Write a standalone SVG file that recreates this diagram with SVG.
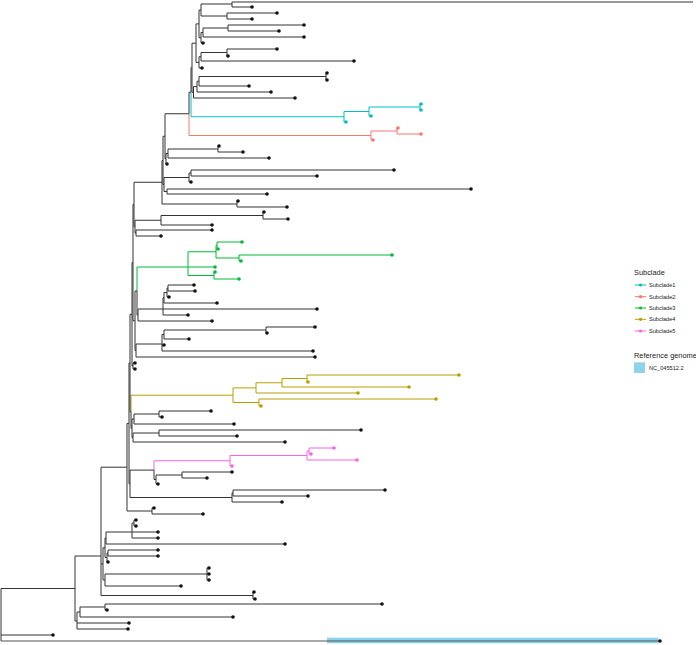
<svg xmlns="http://www.w3.org/2000/svg" width="696" height="645" viewBox="0 0 696 645">
<style>
.e{fill:none;stroke:#333;stroke-width:1}
.s1{fill:none;stroke:#00BFC4;stroke-width:1}
.s2{fill:none;stroke:#F8766D;stroke-width:1}
.s3{fill:none;stroke:#00BA38;stroke-width:1}
.s4{fill:none;stroke:#B79F00;stroke-width:1}
.s5{fill:none;stroke:#F564E3;stroke-width:1}
.k{fill:#111}
.f1{fill:#00BFC4}.f2{fill:#F8766D}.f3{fill:#00BA38}.f4{fill:#B79F00}.f5{fill:#F564E3}
.t{font-family:"Liberation Sans",Arial,sans-serif;fill:#1a1a1a}
</style>
<rect width="696" height="645" fill="#fff"/>
<rect x="327" y="637.7" width="331.5" height="5.6" fill="#8ED3E8"/>
<g id="connectors">
<path class="e" d="M232 2V7M232 2H693M232 7H252M227 13V19M227 13H277M227 19H252M201 4V16M201 4H232M201 16H227M228 25V31M228 25H304M228 31H279M203 28V37M203 28H228M203 37H304M201 32.5V43M201 32.5H203M201 43H203M199 10V37.75M199 10H201M199 37.75H201M227 49V56M227 49H277M227 56H228M201 52.5V61M201 52.5H227M201 61H354M199 56.75V68M199 56.75H201M199 68H202M196 23.9V62.4M196 23.9H199M196 62.4H199M326 73V80M326 73H327M326 80H327M199 76.5V86M199 76.5H326M199 86H249M197 81.25V92M197 81.25H199M197 92H271M193.5 86.6V98M193.5 86.6H197M193.5 98H295M192 43.2V92.3M192 43.2H196M192 92.3H193.5M191 67.75V92.25M191 67.75H192M189 92.25V113.75M189 92.25H191"/>
<path class="s1" d="M191 92.25V116.75H344M420 104V110M420 104H421M420 110H421M369 107V116M369 107H420M369 116H371M344 111.5V122M344 111.5H369M344 122H346"/>
<path class="s2" d="M189 113.75V135.5H371M397 128V134M397 128H398M397 134H421M371 131V140M371 131H397M371 140H373"/>
<path class="e" d="M218 146V152M218 146H219M218 152H243M168 149V158M168 149H218M168 158H269M166 153.5V164M166 153.5H168M166 164H167M165 113.75V158.75M165 113.75H189M165 158.75H166M191 170V176M191 170H394M191 176H317M189 173V182M189 173H191M189 182H191M167 189V194M167 189H471M167 194H267M164 177.5V191.5M164 177.5H189M164 191.5H167M163 136.25V184.5M163 136.25H165M163 184.5H164M237 201V207M237 201H238M237 207H287M162 160.5V204M162 160.5H163M162 204H237M263 212V219M263 212H264M263 219H288M161 215.5V225M161 215.5H263M161 225H212M136 230V236M136 230H212M136 236H161M135 220.25V233M135 220.25H161M135 233H136M134 182.25V226.6M134 182.25H162M134 226.6H135"/>
<path class="s3" d="M217 242V249M217 242H242M217 249H218M239 255V261M239 255H392M239 261H241M216 245.5V258M216 245.5H217M216 258H239M214 272V279M214 272H215M214 279H239M188 251.75V275.5M188 251.75H216M188 267H215M188 275.5H214M137 291V267H188"/>
<path class="e" d="M137 291V315M137 315H138M168 285V291M168 285H194M168 291H195M167 288V297M167 288H168M167 297H169M164 292.5V303M164 292.5H167M164 303H217M163 297.75V315M163 297.75H164M163 309H317M163 315H188M138 309V321M138 309H163M138 321H212M266 327V333M266 327H315M266 333H267M164 330V339M164 330H266M164 339H189M162 334.5V351M162 334.5H164M162 345H164M162 351H313M136 344V357M136 344H162M136 357H315M135 291V350.5M135 291H137M135 350.5H136M133 204.4V320.75M133 204.4H134M133 320.75H135M133 363V369M133 363H135M133 369H135M132 262.6V366M132 262.6H133M132 366H133"/>
<path class="s4" d="M307 375V382M307 375H459M307 382H308M282 378.5V387M282 378.5H307M282 387H409M256 382.75V393M256 382.75H282M256 393H358M259 399V406M259 399H436M259 406H261M233 387.9V402.5M233 387.9H256M233 402.5H259M131 411.7V395.2H233"/>
<path class="e" d="M131 411.7V428.25M131 428.25H132M159 411V417M159 411H211M159 417H162M134 414V424M134 414H159M134 424H234M159 430V436M159 430H361M159 436H237M133 433V442M133 433H159M133 442H285M132 419V437.5M132 419H134M132 437.5H133M130 314.3V411.7M130 314.3H132M130 411.7H131"/>
<path class="s5" d="M309 448V454M309 448H334M309 454H311M307 451V460M307 451H309M307 460H357M230 455.5V466M230 455.5H307M230 466H232M154 470.1V460.75H230"/>
<path class="e" d="M154 470.1V479.5M154 479.5H156M182 472V478M182 472H232M182 478H207M156 475V484M156 475H182M156 484H158M233 490V496M233 490H385M233 496H308M232 493V502M232 493H233M232 502H282M130 470.1V497.5M130 470.1H154M130 497.5H232M129 363V483.8M129 363H130M129 483.8H130M152 508V514M152 508H154M152 514H203M127 423.4V511M127 423.4H129M127 511H152M134 520V526M134 520H136M134 526H136M132 523V538M132 523H134M132 532H158M132 538H158M106 532V544M106 532H132M106 544H285M108 550V556M108 550H158M108 556H158M107 553V562M107 553H108M107 562H108M105 538V557.5M105 538H106M105 557.5H107M207 568V580M207 568H209M207 574H209M207 580H209M105 574V586M105 574H207M105 586H181M103 547.75V580M103 547.75H105M103 580H105M253 592V599M253 592H254M253 599H255M101 467.2V595.5M101 467.2H127M101 563.9H103M101 595.5H253M105 604V610M105 604H382M105 610H107M80 607V617M80 607H105M80 617H233M77 612V629M77 612H80M77 623H129M77 629H128M75 556V621M75 556H101M75 621H77M1 588.5V641M1 588.5H75M1 635H53"/>
<path fill="none" stroke="#555" stroke-width="1.1" d="M1 641H660"/>
</g>
<g id="tips">
<g class="k">
<circle cx="252" cy="7" r="1.8"/><circle cx="277" cy="13" r="1.8"/><circle cx="252" cy="19" r="1.8"/><circle cx="304" cy="25" r="1.8"/><circle cx="279" cy="31" r="1.8"/><circle cx="304" cy="37" r="1.8"/><circle cx="203" cy="43" r="1.8"/><circle cx="277" cy="49" r="1.8"/><circle cx="228" cy="56" r="1.8"/><circle cx="354" cy="61" r="1.8"/><circle cx="202" cy="68" r="1.8"/><circle cx="327" cy="73" r="1.8"/><circle cx="327" cy="80" r="1.8"/><circle cx="249" cy="86" r="1.8"/><circle cx="271" cy="92" r="1.8"/><circle cx="295" cy="98" r="1.8"/>
<circle cx="219" cy="146" r="1.8"/><circle cx="243" cy="152" r="1.8"/><circle cx="269" cy="158" r="1.8"/><circle cx="167" cy="164" r="1.8"/><circle cx="394" cy="170" r="1.8"/><circle cx="317" cy="176" r="1.8"/><circle cx="191" cy="182" r="1.8"/><circle cx="471" cy="189" r="1.8"/><circle cx="267" cy="194" r="1.8"/><circle cx="238" cy="201" r="1.8"/><circle cx="287" cy="207" r="1.8"/><circle cx="264" cy="212" r="1.8"/><circle cx="288" cy="219" r="1.8"/><circle cx="212" cy="225" r="1.8"/><circle cx="212" cy="230" r="1.8"/><circle cx="161" cy="236" r="1.8"/>
<circle cx="194" cy="285" r="1.8"/><circle cx="195" cy="291" r="1.8"/><circle cx="169" cy="297" r="1.8"/><circle cx="217" cy="303" r="1.8"/><circle cx="317" cy="309" r="1.8"/><circle cx="188" cy="315" r="1.8"/><circle cx="212" cy="321" r="1.8"/><circle cx="315" cy="327" r="1.8"/><circle cx="267" cy="333" r="1.8"/><circle cx="189" cy="339" r="1.8"/><circle cx="164" cy="345" r="1.8"/><circle cx="313" cy="351" r="1.8"/><circle cx="315" cy="357" r="1.8"/><circle cx="135" cy="363" r="1.8"/><circle cx="135" cy="369" r="1.8"/>
<circle cx="211" cy="411" r="1.8"/><circle cx="162" cy="417" r="1.8"/><circle cx="234" cy="424" r="1.8"/><circle cx="361" cy="430" r="1.8"/><circle cx="237" cy="436" r="1.8"/><circle cx="285" cy="442" r="1.8"/>
<circle cx="232" cy="472" r="1.8"/><circle cx="207" cy="478" r="1.8"/><circle cx="158" cy="484" r="1.8"/><circle cx="385" cy="490" r="1.8"/><circle cx="308" cy="496" r="1.8"/><circle cx="282" cy="502" r="1.8"/><circle cx="154" cy="508" r="1.8"/><circle cx="203" cy="514" r="1.8"/>
<circle cx="136" cy="520" r="1.8"/><circle cx="136" cy="526" r="1.8"/><circle cx="158" cy="532" r="1.8"/><circle cx="158" cy="538" r="1.8"/><circle cx="285" cy="544" r="1.8"/><circle cx="158" cy="550" r="1.8"/><circle cx="158" cy="556" r="1.8"/><circle cx="108" cy="562" r="1.8"/><circle cx="209" cy="568" r="1.8"/><circle cx="209" cy="574" r="1.8"/><circle cx="209" cy="580" r="1.8"/><circle cx="181" cy="586" r="1.8"/><circle cx="254" cy="592" r="1.8"/><circle cx="255" cy="599" r="1.8"/><circle cx="382" cy="604" r="1.8"/><circle cx="107" cy="610" r="1.8"/><circle cx="233" cy="617" r="1.8"/><circle cx="129" cy="623" r="1.8"/><circle cx="128" cy="629" r="1.8"/><circle cx="53" cy="635" r="1.8"/><circle cx="660" cy="641" r="1.8"/>
</g>
<g id="subclade1-tips" class="f1"><circle cx="421" cy="104" r="1.8"/><circle cx="421" cy="110" r="1.8"/><circle cx="371" cy="116" r="1.8"/><circle cx="346" cy="122" r="1.8"/></g>
<g id="subclade2-tips" class="f2"><circle cx="398" cy="128" r="1.8"/><circle cx="421" cy="134" r="1.8"/><circle cx="373" cy="140" r="1.8"/></g>
<g id="subclade3-tips" class="f3"><circle cx="242" cy="242" r="1.8"/><circle cx="218" cy="249" r="1.8"/><circle cx="392" cy="255" r="1.8"/><circle cx="241" cy="261" r="1.8"/><circle cx="215" cy="267" r="1.8"/><circle cx="215" cy="272" r="1.8"/><circle cx="239" cy="279" r="1.8"/></g>
<g id="subclade4-tips" class="f4"><circle cx="459" cy="375" r="1.8"/><circle cx="308" cy="382" r="1.8"/><circle cx="409" cy="387" r="1.8"/><circle cx="358" cy="393" r="1.8"/><circle cx="436" cy="399" r="1.8"/><circle cx="261" cy="406" r="1.8"/></g>
<g id="subclade5-tips" class="f5"><circle cx="334" cy="448" r="1.8"/><circle cx="311" cy="454" r="1.8"/><circle cx="357" cy="460" r="1.8"/><circle cx="232" cy="466" r="1.8"/></g>
</g>
<g id="legend">
<text class="t" x="634" y="274.5" font-size="7.4">Subclade</text>
<path class="s1" d="M635 285H646"/><circle class="f1" cx="640.5" cy="285" r="1.6"/><text class="t" x="649" y="287" font-size="5.6">Subclade1</text>
<path class="s2" d="M635 296.7H646"/><circle class="f2" cx="640.5" cy="296.7" r="1.6"/><text class="t" x="649" y="298.7" font-size="5.6">Subclade2</text>
<path class="s3" d="M635 308H646"/><circle class="f3" cx="640.5" cy="308" r="1.6"/><text class="t" x="649" y="310" font-size="5.6">Subclade3</text>
<path class="s4" d="M635 319.3H646"/><circle class="f4" cx="640.5" cy="319.3" r="1.6"/><text class="t" x="649" y="321.3" font-size="5.6">Subclade4</text>
<path class="s5" d="M635 331H646"/><circle class="f5" cx="640.5" cy="331" r="1.6"/><text class="t" x="649" y="333" font-size="5.6">Subclade5</text>
<text class="t" x="634" y="357.6" font-size="7.4">Reference genome</text>
<rect x="634" y="362.3" width="11" height="10.7" fill="#8ED3E8"/>
<text class="t" x="649" y="369.5" font-size="5.6">NC_045512.2</text>
</g>
</svg>
